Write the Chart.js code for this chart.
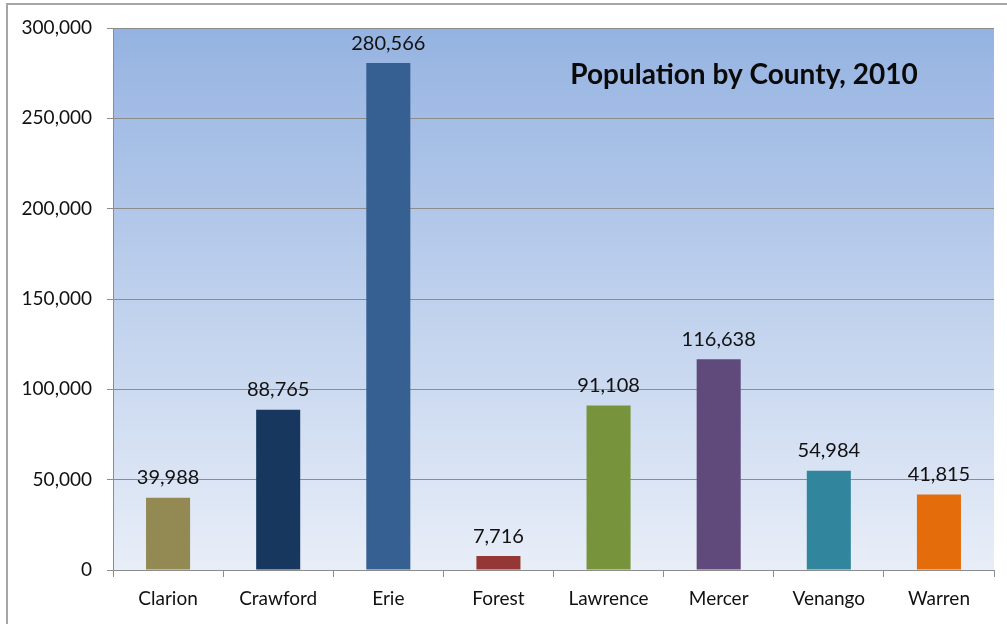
<!DOCTYPE html>
<html>
<head>
<meta charset="utf-8">
<script src="https://cdn.jsdelivr.net/npm/chart.js@4/dist/chart.umd.min.js"></script>
<style>
  html, body { margin: 0; padding: 0; background: #fff; }
  #wrap { width: 1007px; height: 624px; position: relative; }
</style>
</head>
<body>
<div id="wrap"><canvas id="popChart" width="1007" height="624"></canvas></div>
<script>
const counties = ["Clarion", "Crawford", "Erie", "Forest", "Lawrence", "Mercer", "Venango", "Warren"];
const population = [39988, 88765, 280566, 7716, 91108, 116638, 54984, 41815];
const barColors = ["#938953", "#17375e", "#376092", "#953735", "#77933c", "#604a7b", "#31859c", "#e46c0a"];
const chartTitle = "Population by County, 2010";
const FONT = "Lato, 'Open Sans', sans-serif";

const fmt = v => v.toLocaleString("en-US");

// background gradient + outer frame
const backdrop = {
  id: "backdrop",
  beforeDraw(chart) {
    const { ctx, chartArea: a } = chart;
    ctx.save();
    ctx.strokeStyle = "#a6a6a6";
    ctx.lineWidth = 2;
    ctx.strokeRect(7, 4, 1010, 640);
    const g = ctx.createLinearGradient(0, a.top, 0, a.bottom);
    g.addColorStop(0, "#95b3e1");
    g.addColorStop(1, "#e8eef8");
    ctx.fillStyle = g;
    ctx.fillRect(a.left, a.top, a.right - a.left, a.bottom - a.top);
    ctx.restore();
  }
};

// value labels and the title inside the plot
const labels = {
  id: "labels",
  afterDatasetsDraw(chart) {
    const { ctx } = chart;
    const meta = chart.getDatasetMeta(0);
    ctx.save();
    ctx.fillStyle = "#111";
    ctx.font = "20px " + FONT;
    ctx.textAlign = "center";
    ctx.textBaseline = "bottom";
    meta.data.forEach((bar, i) => {
      ctx.fillText(fmt(population[i]), bar.x, bar.y - 10);
    });
    ctx.font = "bold 28px " + FONT;
    ctx.fillStyle = "#0a0a0a";
    ctx.fillText(chartTitle, 744, 89);
    ctx.restore();
  }
};

new Chart(document.getElementById("popChart"), {
  type: "bar",
  data: {
    labels: counties,
    datasets: [{
      data: population,
      backgroundColor: barColors,
      borderWidth: 0,
      barPercentage: 0.4,
      categoryPercentage: 1.0
    }]
  },
  options: {
    responsive: false,
    animation: false,
    layout: { padding: { top: 28, right: 13, left: 0, bottom: 0 } },
    plugins: { legend: { display: false }, tooltip: { enabled: false } },
    scales: {
      x: {
        grid: { drawOnChartArea: false, drawTicks: true, tickLength: 7, color: "#8c8c8c", offset: true },
        border: { color: "#8c8c8c", width: 1 },
        ticks: { color: "#111", font: { family: FONT, size: 19 }, padding: 10 },
        afterFit(s) { s.height = 54; }
      },
      y: {
        min: 0,
        max: 300000,
        ticks: { stepSize: 50000, color: "#111", font: { family: FONT, size: 19 }, padding: 15, callback: v => fmt(v) },
        grid: { color: "#8c8c8c", tickLength: 6 },
        border: { color: "#8c8c8c", width: 1 },
        afterFit(s) { s.width = 113; }
      }
    }
  },
  plugins: [backdrop, labels]
});
</script>
</body>
</html>
